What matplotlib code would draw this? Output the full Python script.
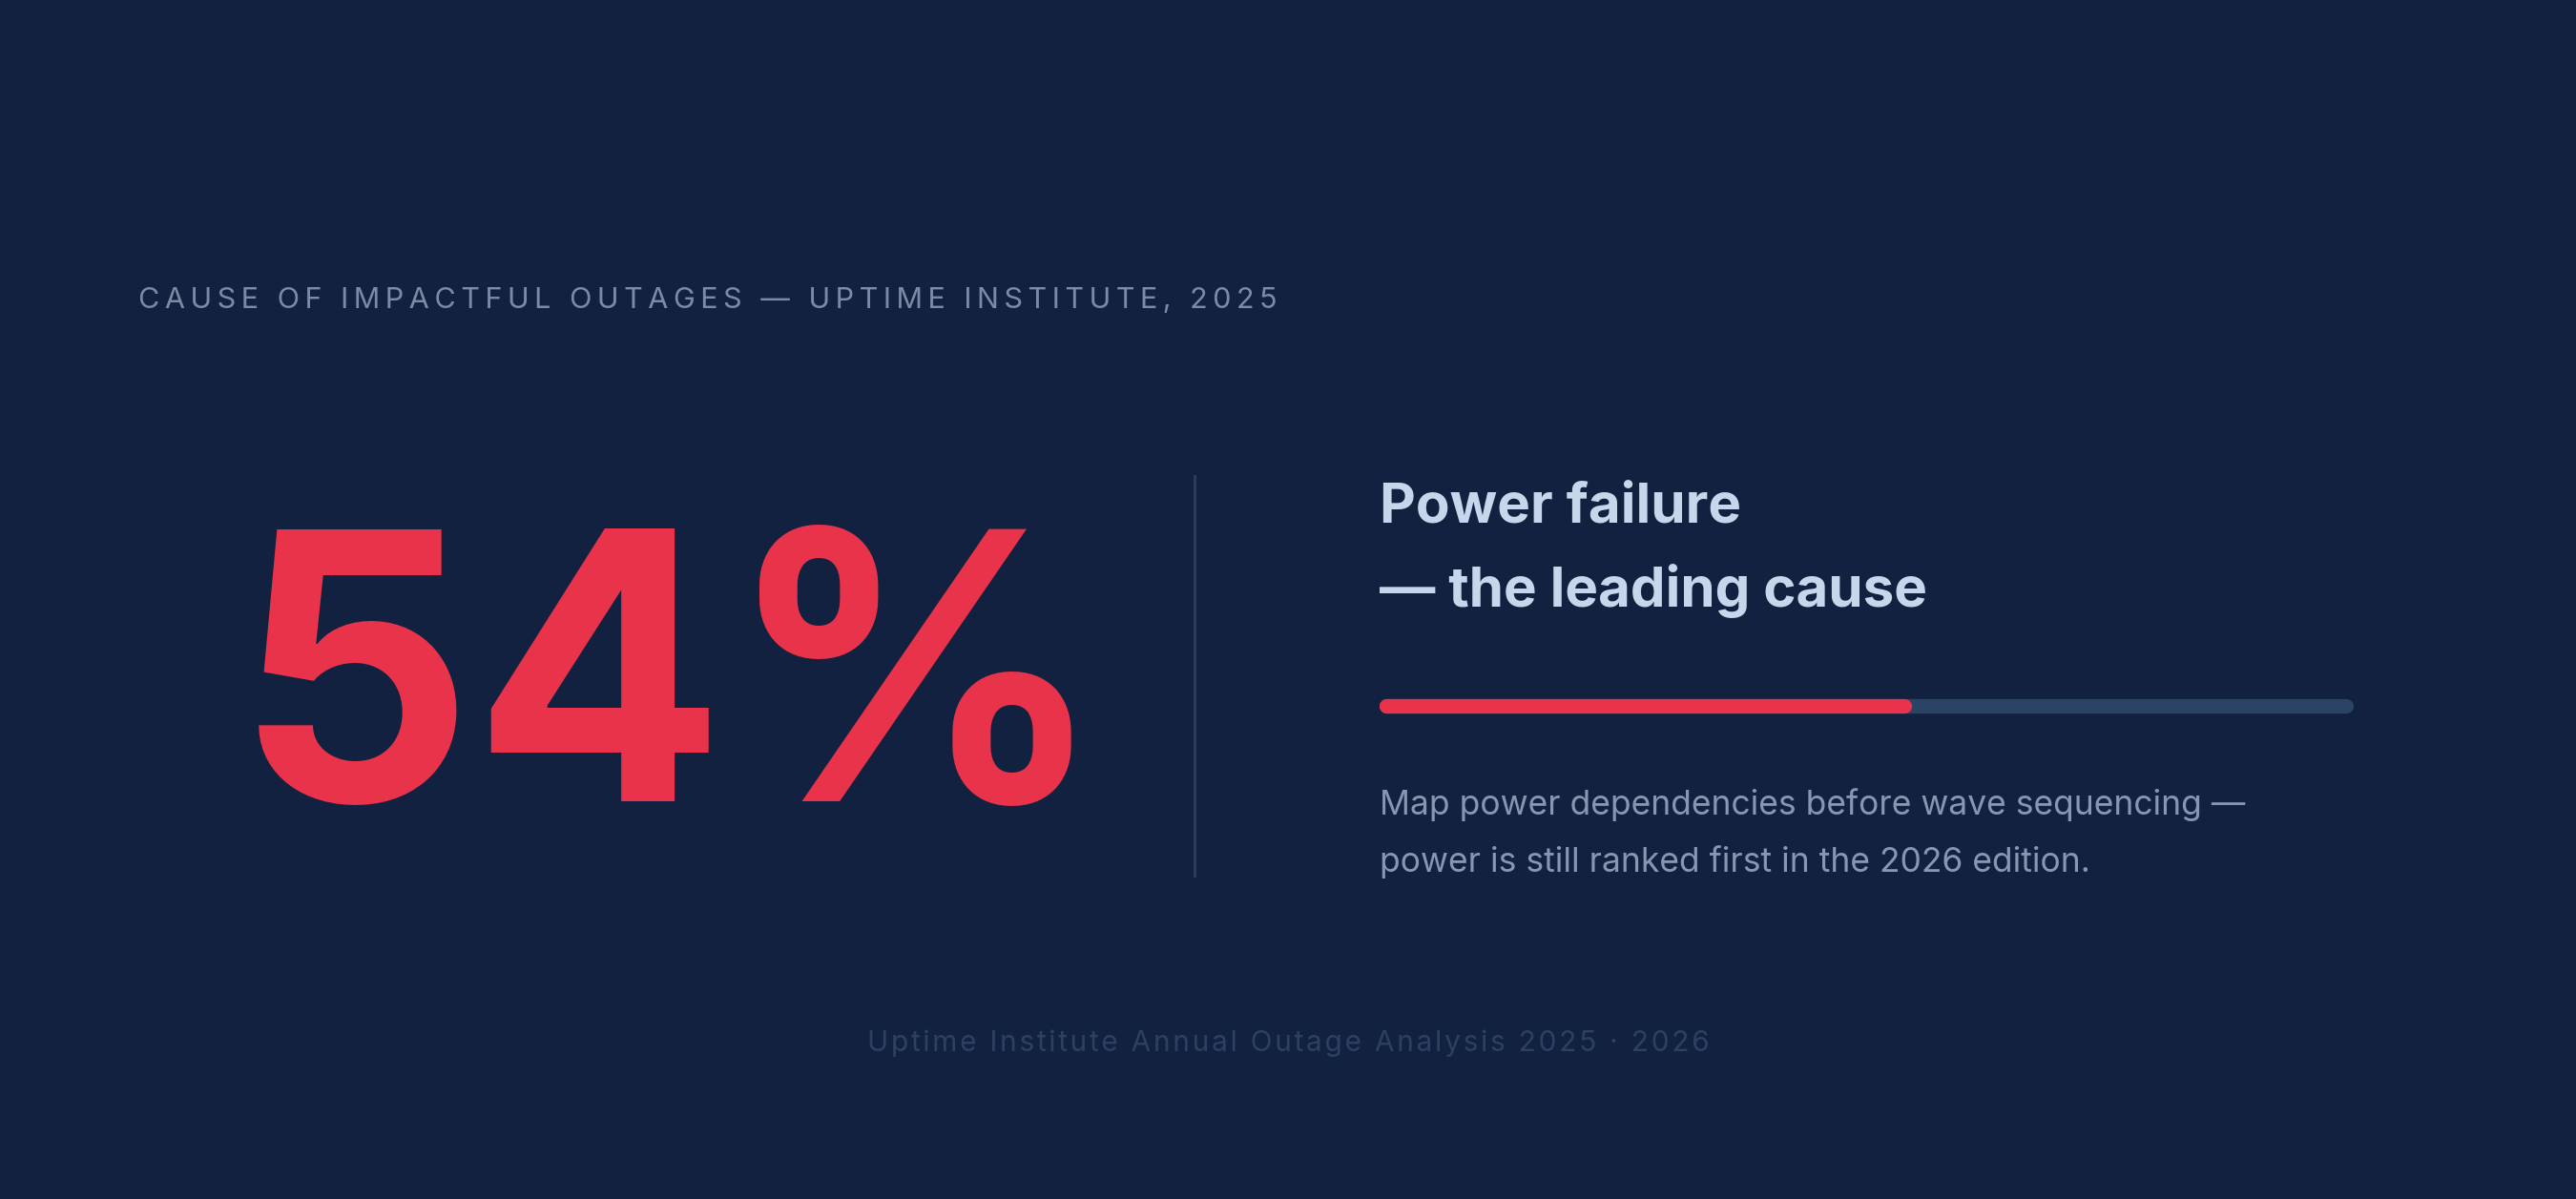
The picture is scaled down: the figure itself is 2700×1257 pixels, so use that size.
import matplotlib.pyplot as plt

# data
share_pct = 54
track_max = 100
title = "CAUSE OF IMPACTFUL OUTAGES — UPTIME INSTITUTE, 2025"
heading = ["Power failure", "— the leading cause"]
body = ["Map power dependencies before wave sequencing —",
        "power is still ranked first in the 2026 edition."]
footer = "Uptime Institute Annual Outage Analysis 2025 · 2026"

BG = "#12213f"
RED = "#e8334a"
TRACK = "#2b4466"
W, H = 2700, 1257
s = W / 1568  # reference sketch scale

fig = plt.figure(figsize=(27, 12.57), dpi=100, facecolor=BG)
ax = fig.add_axes([0, 0, 1, 1])
ax.set_xlim(0, W)
ax.set_ylim(H, 0)
ax.axis("off")
ax.set_facecolor(BG)

font = ["Inter", "DejaVu Sans"]

def spaced(t, sep="\u200a"):
    return sep.join(t)

ax.text(84 * s, 183 * s, spaced(title, "\u2009"), color="#7d8aa5", fontsize=22,
        family=font, va="center", ha="left")

ax.text(143 * s, 428 * s, f"{share_pct}%", color=RED, fontsize=282,
        family=font, fontweight="bold", va="center", ha="left")

ax.plot([727 * s, 727 * s], [290 * s, 533 * s], color="#2f3e5c", lw=2)

x0 = 840 * s
ax.text(x0, 309 * s, heading[0], color="#c8d6ec", fontsize=42,
        family=font, fontweight="bold", va="center")
ax.text(x0, 360 * s, heading[1], color="#c8d6ec", fontsize=42,
        family=font, fontweight="bold", va="center")

x1 = 1432 * s
cap = 7
bw = (x1 - x0 - 2 * cap) / track_max
ax.plot([x0 + cap, x0 + cap + track_max * bw], [430 * s] * 2, color=TRACK, lw=11,
        solid_capstyle="round")
ax.plot([x0 + cap, x0 + cap + share_pct * bw], [430 * s] * 2, color=RED, lw=11,
        solid_capstyle="round")

for i, line in enumerate(body):
    ax.text(x0, (490 + 35 * i) * s, line, color="#8896b2", fontsize=25.5,
            family=font, va="center")

ax.text(784 * s, 635 * s, spaced(footer), color="#2c4162", fontsize=21.5,
        family=font, va="center", ha="center")

fig.savefig("out.png", dpi=100, facecolor=BG)
